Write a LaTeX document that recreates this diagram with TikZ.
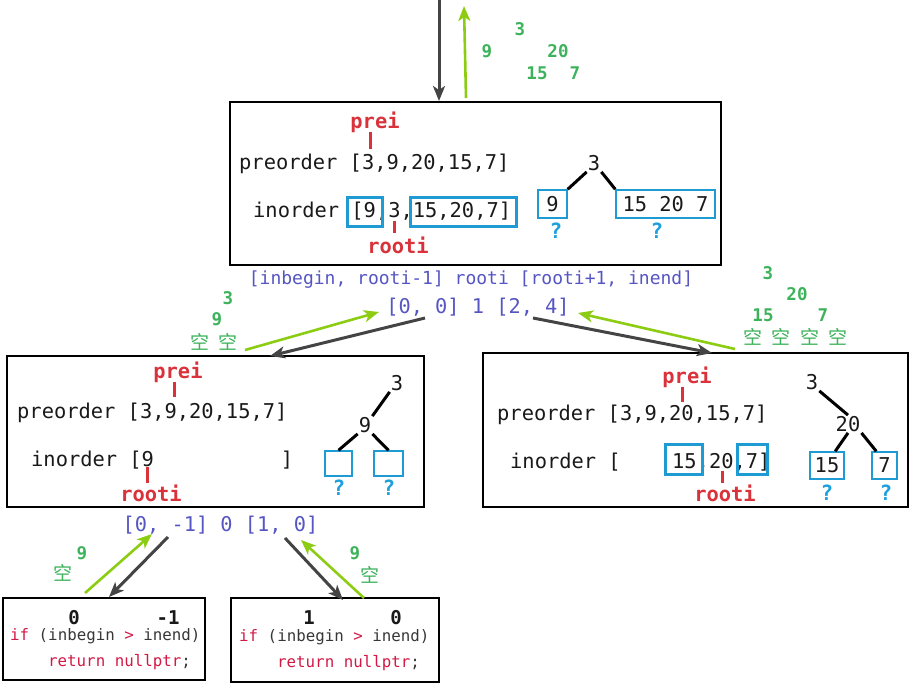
\documentclass[tikz,border=0pt]{standalone}
\usepackage{fontspec}
\newfontfamily\mono{DejaVu Sans Mono}
\newfontfamily\cjk{Noto Sans CJK SC}
\usetikzlibrary{arrows.meta}
\definecolor{myred}{RGB}{217,50,58}
\definecolor{boxblue}{RGB}{30,155,210}
\definecolor{qblue}{RGB}{30,160,220}
\definecolor{lblblue}{RGB}{85,85,195}
\definecolor{mygreen}{RGB}{60,178,90}
\definecolor{arrgreen}{RGB}{140,205,20}
\definecolor{arrgray}{RGB}{68,68,68}
\definecolor{codered}{RGB}{210,25,70}
\definecolor{codegray}{RGB}{55,55,55}
\definecolor{txt}{RGB}{25,25,25}
\tikzset{
  frame/.style={draw=black, line width=1.4pt, inner sep=0pt},
  code/.style={font=\mono\fontsize{20.4}{24}\selectfont, text=txt, inner sep=0pt},
  codew/.style={code, anchor=base west},
  redlbl/.style={font=\mono\bfseries\fontsize{20.4}{24}\selectfont, text=myred, inner sep=0pt},
  redtick/.style={draw=myred, line width=3pt},
  thickbox/.style={draw=boxblue, line width=3pt, inner sep=0pt},
  thinbox/.style={draw=boxblue, line width=1.4pt, inner sep=0pt, font=\mono\fontsize{20.4}{24}\selectfont, text=txt},
  qmark/.style={font=\mono\bfseries\fontsize{21}{24}\selectfont, text=qblue, inner sep=0pt},
  treenum/.style={font=\mono\fontsize{20.4}{24}\selectfont, text=txt, inner sep=1pt},
  treeline/.style={draw=black, line width=3pt},
  grn/.style={font=\mono\bfseries\fontsize{17.5}{20}\selectfont, text=mygreen, inner sep=0pt},
  grncjk/.style={font=\cjk\fontsize{19}{22}\selectfont, text=mygreen, inner sep=0pt},
  lbl/.style={font=\mono\fontsize{20.3}{24}\selectfont, text=lblblue, inner sep=0pt},
  lblsmall/.style={font=\mono\fontsize{18}{22}\selectfont, text=lblblue, inner sep=0pt},
  smallcode/.style={font=\mono\fontsize{15.8}{19}\selectfont, text=codegray, inner sep=0pt, anchor=base west},
  bnum/.style={font=\mono\bfseries\fontsize{19}{22}\selectfont, text=txt, inner sep=0pt, anchor=base},
  darrow/.style={draw=arrgray, line width=3pt, -{Stealth[length=15pt,width=12pt,inset=4pt]}},
  garrow/.style={draw=arrgreen, line width=2.6pt, -{Stealth[length=15pt,width=12pt,inset=4pt]}}
}
\begin{document}
\begin{tikzpicture}[x=1pt,y=-1pt]
\useasboundingbox (0,0) rectangle (911,685);
% ---------- frames
\node[frame, minimum width=491pt, minimum height=163pt] (topbox) at (475.5,183.5) {};
\node[frame, minimum width=417pt, minimum height=151pt] (leftbox) at (215.5,431.5) {};
\node[frame, minimum width=425pt, minimum height=154pt] (rightbox) at (695.5,430) {};
\node[frame, minimum width=202pt, minimum height=82pt] (blbox) at (104,639) {};
\node[frame, minimum width=208pt, minimum height=84pt] (brbox) at (335,640) {};

% ---------- top box
\node[redlbl] (tprei) at (375,122) {prei};
\draw[redtick] (370,132) -- (370,149);
\node[codew] (tpre) at (239,169) {preorder [3,9,20,15,7]};
\node[codew] (tin) at (253,217) {inorder [9,3,15,20,7]};
\draw[redtick] (394,221) -- (394,233);
\node[redlbl] (trooti) at (398,245) {rooti};
\node[thickbox, minimum width=35pt, minimum height=29pt] (tbl) at (364.5,211.5) {};
\node[thickbox, minimum width=106pt, minimum height=29pt] (tbr) at (463,211.5) {};
\node[treenum] (t3) at (594,163) {3};
\node[thinbox, minimum width=29pt, minimum height=28pt] (t9) at (552.5,204) {9};
\node[thinbox, minimum width=99pt, minimum height=28pt] (trest) at (665.5,204) {15 20 7};
\draw[treeline] (t3.south west) -- (t9.north east);
\draw[treeline] (t3.south east) -- (trest.north west);
\node[qmark] (tq1) at (556,231) {?};
\node[qmark] (tq2) at (657,231) {?};

% ---------- green above top
\node[grn] (ga3) at (520,29) {3};
\node[grn] (ga9) at (487,51) {9};
\node[grn] (ga20) at (558,51) {20};
\node[grn] (ga15) at (537,73) {15};
\node[grn] (ga7) at (575,73) {7};

% ---------- labels under top box
\node[lblsmall] (lbl1) at (471,280) {[inbegin, rooti-1] rooti [rooti+1, inend]};
\node[lbl] (lbl2) at (478,307) {[0, 0] 1 [2, 4]};

% ---------- green left / right
\node[grn] (gl3) at (228,298) {3};
\node[grn] (gl9) at (217,319) {9};
\node[grncjk] (glk) at (214,342) {空\hspace{10pt}空};
\node[grn] (gr3) at (768,273) {3};
\node[grn] (gr20) at (797,294) {20};
\node[grn] (gr15) at (763,315) {15};
\node[grn] (gr7) at (823,315) {7};
\node[grncjk] (grk) at (795.5,337) {空\hspace{9.5pt}空\hspace{9.5pt}空\hspace{9.5pt}空};

% ---------- left box
\node[redlbl] (lprei) at (178,372) {prei};
\draw[redtick] (174,382) -- (174,397);
\node[codew] (lpre) at (17,418) {preorder [3,9,20,15,7]};
\node[codew] (lin) at (31,466) {inorder [9};
\node[code, anchor=base] (lbr) at (287,466) {]};
\draw[redtick] (147,467) -- (147,483);
\node[redlbl] (lrooti) at (151,493) {rooti};
\node[treenum] (l3) at (397,383) {3};
\node[treenum] (l9) at (365,425) {9};
\node[thinbox, minimum width=27pt, minimum height=25pt] (lbA) at (338.5,463.5) {};
\node[thinbox, minimum width=29pt, minimum height=25pt] (lbB) at (388.5,463.5) {};
\draw[treeline] (l3.south west) -- (l9.north east);
\draw[treeline] (l9.south west) -- (lbA.north);
\draw[treeline] (l9.south east) -- (lbB.north);
\node[qmark] (lq1) at (339,488) {?};
\node[qmark] (lq2) at (389,488) {?};

% ---------- right box
\node[redlbl] (rprei) at (687,377) {prei};
\draw[redtick] (682,387) -- (682,402);
\node[codew] (rpre) at (497,420) {preorder [3,9,20,15,7]};
\node[codew] (rin) at (510,468) {inorder [};
\node[codew] (rin2) at (672,468) {15,20,7]};
\node[thickbox, minimum width=37pt, minimum height=30pt] (rbl) at (683.5,459) {};
\node[thickbox, minimum width=30pt, minimum height=30pt] (rbr) at (752,459) {};
\draw[redtick] (722,471) -- (722,483);
\node[redlbl] (rrooti) at (725,493) {rooti};
\node[treenum] (r3) at (812,382) {3};
\node[treenum] (r20) at (848,424) {20};
\node[thinbox, minimum width=34pt, minimum height=27pt] (r15) at (827,465.5) {15};
\node[thinbox, minimum width=25pt, minimum height=27pt] (r7) at (884.5,465.5) {7};
\draw[treeline] (r3.south east) -- (r20.north);
\draw[treeline] (r20.south) -- (r15.60);
\draw[treeline] (r20.south east) -- (r7.120);
\node[qmark] (rq1) at (827,493) {?};
\node[qmark] (rq2) at (886,493) {?};

% ---------- label under left box
\node[lbl] (lbl3) at (220.5,525) {[0, -1] 0 [1, 0]};
\node[grn] (gb9a) at (82,553) {9};
\node[grncjk] (gbka) at (63,573) {空};
\node[grn] (gb9b) at (355,553) {9};
\node[grncjk] (gbkb) at (370,575) {空};

% ---------- bottom boxes
\node[bnum] (bl0) at (74,624) {0};
\node[bnum] (blm1) at (168,624) {-1};
\node[smallcode] (blif) at (10,640) {{\color{codered}if} (inbegin {\color{codered}>} inend)};
\node[smallcode] (blret) at (48,666) {{\color{codered}return nullptr};};
\node[bnum] (br1) at (309,624) {1};
\node[bnum] (br0) at (396,624) {0};
\node[smallcode] (brif) at (239,641) {{\color{codered}if} (inbegin {\color{codered}>} inend)};
\node[smallcode] (brret) at (277,667) {{\color{codered}return nullptr};};

% ---------- arrows
\coordinate (a1s) at (439,0);   \coordinate (a1e) at (439,101);
\coordinate (a2s) at (466,98);  \coordinate (a2e) at (464,6);
\coordinate (a3s) at (245,350); \coordinate (a3e) at (379,312);
\coordinate (a4s) at (425,318); \coordinate (a4e) at (270,356);
\coordinate (a5s) at (533,318); \coordinate (a5e) at (712,353);
\coordinate (a6s) at (735,349); \coordinate (a6e) at (578,313);
\coordinate (a7s) at (85,593);  \coordinate (a7e) at (152,534);
\coordinate (a8s) at (168,537); \coordinate (a8e) at (109,597);
\coordinate (a9s) at (285,538); \coordinate (a9e) at (343,600);
\coordinate (a10s) at (364,598); \coordinate (a10e) at (301,540);
\draw[darrow] (a1s) -- (a1e);
\draw[garrow] (a2s) -- (a2e);
\draw[garrow] (a3s) -- (a3e);
\draw[darrow] (a4s) -- (a4e);
\draw[darrow] (a5s) -- (a5e);
\draw[garrow] (a6s) -- (a6e);
\draw[garrow] (a7s) -- (a7e);
\draw[darrow] (a8s) -- (a8e);
\draw[darrow] (a9s) -- (a9e);
\draw[garrow] (a10s) -- (a10e);
\end{tikzpicture}
\end{document}
